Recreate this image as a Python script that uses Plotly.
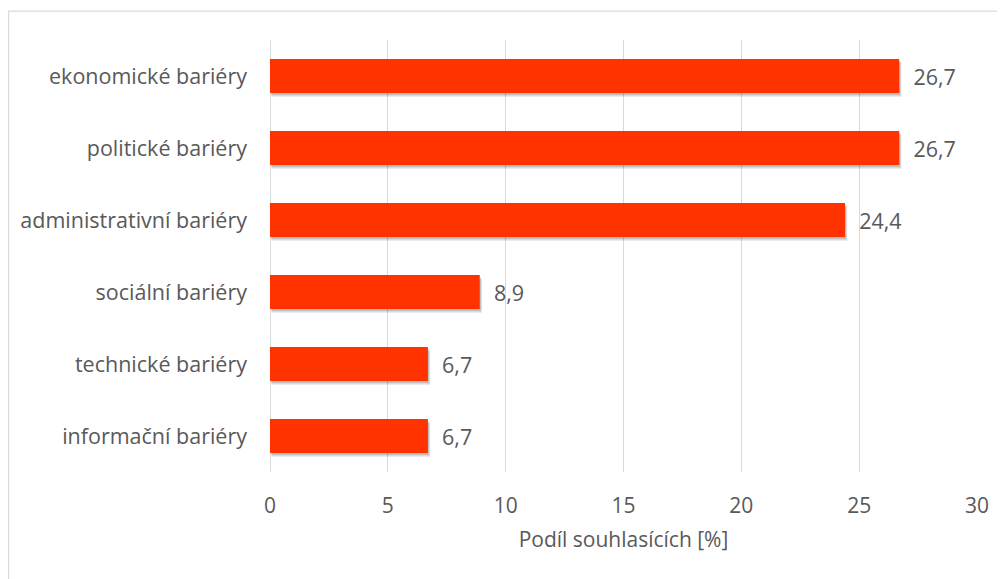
import plotly.graph_objects as go

categories = ["informační bariéry", "technické bariéry", "sociální bariéry",
              "administrativní bariéry", "politické bariéry", "ekonomické bariéry"]
values = [6.7, 6.7, 8.9, 24.4, 26.7, 26.7]
x_ticks = [0, 5, 10, 15, 20, 25, 30]
x_title = "Podíl souhlasících [%]"

FONT = "Open Sans, sans-serif"
TXT = "#595959"
BAR_W = 0.47

fig = go.Figure()
# soft drop shadow below/right of each bar
for dx, dy, a in [(0.10, 0.055, 0.08), (0.07, 0.04, 0.10), (0.04, 0.025, 0.12)]:
    fig.add_trace(go.Bar(
        y=categories, x=values, orientation="h", base=dx,
        marker=dict(color=f"rgba(0,0,0,{a})", line=dict(width=0)),
        width=BAR_W, offset=-BAR_W / 2 - dy, hoverinfo="skip",
    ))
fig.add_trace(go.Bar(
    y=categories, x=values, orientation="h",
    marker=dict(color="#FF3300", line=dict(width=0)),
    text=[f"{v:.1f}".replace(".", ",") for v in values],
    texttemplate="  %{text}",
    textposition="outside", cliponaxis=False,
    textfont=dict(family=FONT, size=21.5, color=TXT),
    width=BAR_W, offset=-BAR_W / 2,
))

# page body has an 8px default margin, so the figure is shifted by 8px
fig.update_layout(
    width=997, height=571,
    margin=dict(l=262, r=28, t=32, b=107),
    paper_bgcolor="white", plot_bgcolor="white",
    showlegend=False, barmode="overlay",
    font=dict(family=FONT, size=21, color=TXT),
    xaxis=dict(range=[0, 30], tickvals=x_ticks, showgrid=True,
               gridcolor="#D9D9D9", gridwidth=1.3, zeroline=True,
               zerolinecolor="#D9D9D9", zerolinewidth=1.3,
               showline=False, ticks="", ticklabelstandoff=19,
               automargin=False,
               tickfont=dict(size=21, color=TXT),
               title=dict(text=x_title, standoff=14,
                          font=dict(size=21, color=TXT))),
    yaxis=dict(showgrid=False, showline=False, ticks="", automargin=False,
               ticklabelstandoff=22, tickfont=dict(size=21.5, color=TXT)),
    shapes=[dict(type="rect", xref="paper", yref="paper",
                 x0=-0.3699, x1=1.2, y0=-0.5, y1=1.067,
                 line=dict(color="#D9D9D9", width=1.3),
                 fillcolor="rgba(0,0,0,0)", layer="below")],
)

fig.write_html("out.html")
